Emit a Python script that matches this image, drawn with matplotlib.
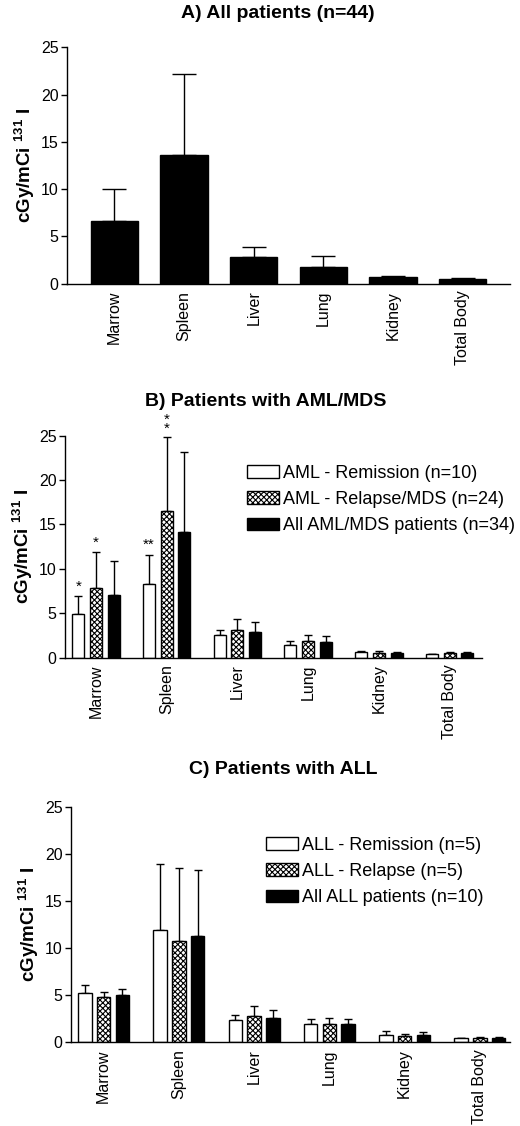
import numpy as np
import matplotlib
matplotlib.use("Agg")
import matplotlib.pyplot as plt

plt.rcParams['font.family'] = ['Liberation Sans', 'DejaVu Sans']
plt.rcParams['mathtext.default'] = 'regular'
plt.rcParams['hatch.linewidth'] = 0.8

organs = ["Marrow", "Spleen", "Liver", "Lung", "Kidney", "Total Body"]

# panel A: all patients
all_mean = [6.6, 13.6, 2.8, 1.8, 0.7, 0.5]
all_top = [10.0, 22.2, 3.85, 2.9, 0.85, 0.6]

# panel B: AML/MDS
b_labels = ["AML - Remission (n=10)", "AML - Relapse/MDS (n=24)", "All AML/MDS patients (n=34)"]
aml_rem_mean = [4.9, 8.3, 2.5, 1.4, 0.6, 0.4]
aml_rem_top = [6.9, 11.55, 3.1, 1.9, 0.7, 0.45]
aml_rel_mean = [7.8, 16.5, 3.1, 1.9, 0.55, 0.5]
aml_rel_top = [11.85, 24.9, 4.4, 2.5, 0.7, 0.6]
aml_all_mean = [7.0, 14.1, 2.9, 1.8, 0.5, 0.5]
aml_all_top = [10.9, 23.2, 4.05, 2.4, 0.6, 0.6]

# panel C: ALL
c_labels = ["ALL - Remission (n=5)", "ALL - Relapse (n=5)", "All ALL patients (n=10)"]
all_rem_mean = [5.2, 11.9, 2.35, 1.9, 0.8, 0.45]
all_rem_top = [6.1, 19.0, 2.95, 2.5, 1.25, 0.5]
all_rel_mean = [4.8, 10.8, 2.75, 2.0, 0.7, 0.45]
all_rel_top = [5.4, 18.6, 3.85, 2.6, 0.92, 0.55]
all_all_mean = [5.05, 11.35, 2.6, 1.9, 0.8, 0.5]
all_all_top = [5.7, 18.3, 3.45, 2.5, 1.1, 0.55]

# significance marks in B: (organ index, series index, text, y)
b_marks = [(0, 0, "*", 7.2), (0, 1, "*", 12.2), (1, 0, "**", 11.9), (1, 1, "*\n*", 25.0)]

ylab = r"cGy/mCi $^{131}$ I"


def style_axes(ax, xlim):
    for s in ["top", "right"]:
        ax.spines[s].set_visible(False)
    ax.spines["left"].set_linewidth(1.0)
    ax.spines["bottom"].set_linewidth(1.0)
    ax.set_ylim(0, 25)
    ax.set_xlim(*xlim)
    ax.set_yticks([0, 5, 10, 15, 20, 25])
    ax.tick_params(axis="y", direction="out", length=4, width=1, labelsize=11.5, pad=2)
    ax.tick_params(axis="x", length=0, labelsize=11.5, pad=5)
    ax.set_xticks(np.arange(len(organs)))
    ax.set_xticklabels(organs, rotation=90)
    ax.set_ylabel(ylab, fontsize=13.5, fontweight="bold", labelpad=3)


def grouped(ax, means, tops, labels, width, off, capsize):
    x = np.arange(len(organs))
    styles = [dict(color="white", hatch=None), dict(color="white", hatch="xxxxxx"),
              dict(color="black", hatch=None)]
    for i, (m, t) in enumerate(zip(means, tops)):
        xi = x + (i - 1) * off
        err = [np.zeros(len(m)), np.array(t) - np.array(m)]
        ax.bar(xi, m, width, facecolor=styles[i]["color"], edgecolor="black",
               hatch=styles[i]["hatch"], linewidth=1.0, label=labels[i], zorder=2)
        ax.errorbar(xi, m, yerr=err, fmt="none", ecolor="black", elinewidth=1.0,
                    capsize=capsize, capthick=1.0, zorder=1)


def add_legend(ax, anchor):
    ax.legend(loc="upper left", bbox_to_anchor=anchor, frameon=False, fontsize=13,
              handlelength=1.8, handleheight=0.7, handletextpad=0.2, labelspacing=0.52,
              borderaxespad=0, borderpad=0)


fig = plt.figure(figsize=(5.2, 11.26), dpi=100)

# A
axA = fig.add_axes([0.129, 0.748, 0.852, 0.21])
x = np.arange(len(organs))
axA.bar(x, all_mean, 0.68, color="black", edgecolor="black", zorder=2)
axA.errorbar(x, all_mean, yerr=[np.zeros(6), np.array(all_top) - np.array(all_mean)],
             fmt="none", ecolor="black", elinewidth=1.0, capsize=8.5, capthick=1.0, zorder=1)
style_axes(axA, (-0.68, 5.68))
fig.text(0.535, 1 - 13 / 1126, "A) All patients (n=44)", ha="center", va="center",
         fontsize=14, fontweight="bold")

# B
axB = fig.add_axes([0.125, 0.416, 0.802, 0.197])
grouped(axB, [aml_rem_mean, aml_rel_mean, aml_all_mean],
        [aml_rem_top, aml_rel_top, aml_all_top], b_labels, 0.17, 0.25, 3)
style_axes(axB, (-0.44, 5.46))
for gi, si, txt, yv in b_marks:
    axB.text(gi + (si - 1) * 0.25, yv, txt, ha="center", va="bottom", fontsize=11,
             linespacing=0.55, clip_on=False)
add_legend(axB, (0.436, 0.87))
fig.text(0.51, 1 - 402 / 1126, "B) Patients with AML/MDS", ha="center", va="center",
         fontsize=14, fontweight="bold")

# C
axC = fig.add_axes([0.1365, 0.0743, 0.844, 0.2087])
grouped(axC, [all_rem_mean, all_rel_mean, all_all_mean],
        [all_rem_top, all_rel_top, all_all_top], c_labels, 0.18, 0.25, 2.7)
style_axes(axC, (-0.434, 5.4))
add_legend(axC, (0.444, 0.875))
fig.text(0.545, 1 - 770 / 1126, "C) Patients with ALL", ha="center", va="center",
         fontsize=14, fontweight="bold")

fig.savefig("out.png", dpi=100)
